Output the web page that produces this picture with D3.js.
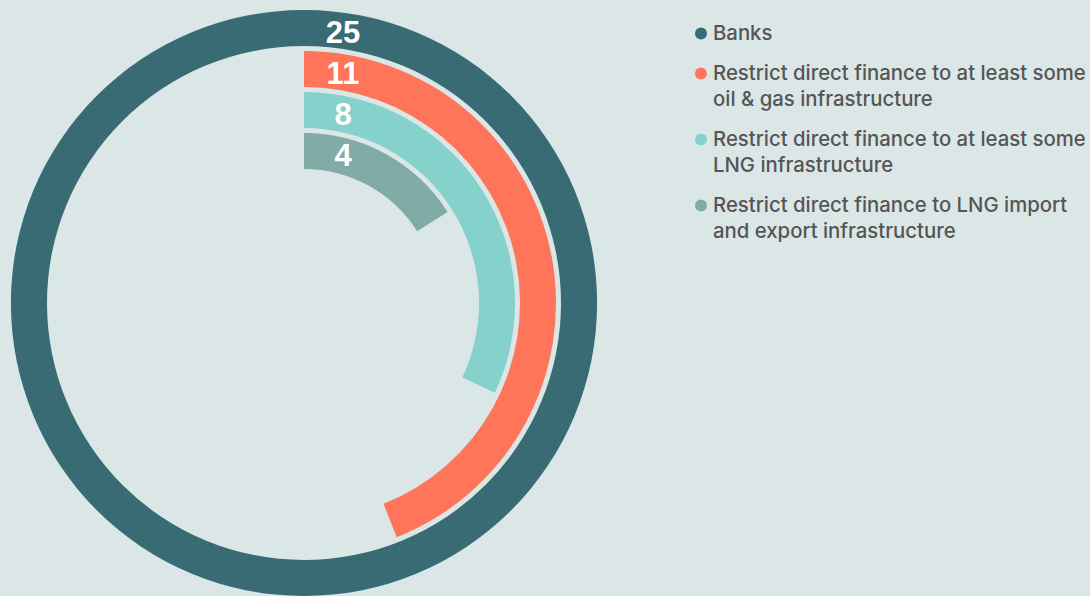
<!DOCTYPE html>
<html>
<head>
<meta charset="utf-8">
<script src="https://cdn.jsdelivr.net/npm/d3@7"></script>
<style>
  body { margin: 0; background: #dbe6e6; }
  svg { display: block; }
  .legend text { font-family: Inter, "Open Sans", sans-serif; font-weight: 500; font-size: 18px; fill: #555; }
  .num { font-family: "Liberation Sans", Arial, sans-serif; font-weight: bold; font-size: 31px; fill: #fff; }
</style>
</head>
<body>
<div id="chart"></div>
<script>
// data
const categories = ["Banks",
  "Restrict direct finance to at least some oil & gas infrastructure",
  "Restrict direct finance to at least some LNG infrastructure",
  "Restrict direct finance to LNG import and export infrastructure"];
const values = [25, 11, 8, 4];
const legendLines = [
  ["Banks"],
  ["Restrict direct finance to at least some", "oil & gas infrastructure"],
  ["Restrict direct finance to at least some", "LNG infrastructure"],
  ["Restrict direct finance to LNG import", "and export infrastructure"]
];
const colors = ["#386b73", "#ff7559", "#84d2cb", "#80aba7"];

let width = 1090, height = 596;
let cx = 304, cy = 303;

let svg = d3.select("#chart").append("svg")
    .attr("width", width)
    .attr("height", height);

svg.append("rect").attr("width", width).attr("height", height).attr("fill", "#dbe6e6");

// radial band per category, outermost = first
let r = d3.scaleBand()
    .domain(categories.slice().reverse())
    .range([134, 293])
    .paddingInner(5 / 41)
    .paddingOuter(0);

let angle = d3.scaleLinear()
    .domain([0, 25])
    .range([0, 2 * Math.PI]);

let arc = d3.arc()
    .innerRadius(d => r(d.cat))
    .outerRadius(d => r(d.cat) + r.bandwidth())
    .startAngle(0)
    .endAngle(d => angle(d.value));

let rows = categories.map((c, i) => ({cat: c, value: values[i], color: colors[i]}));

let g = svg.append("g").attr("transform", "translate(" + cx + "," + cy + ")");

g.selectAll("path.bar")
    .data(rows)
    .enter().append("path")
    .attr("class", "bar")
    .attr("d", arc)
    .attr("fill", d => d.color);

g.selectAll("text.num")
    .data(rows)
    .enter().append("text")
    .attr("class", "num")
    .attr("x", 39)
    .attr("y", d => -(r(d.cat) + r.bandwidth() / 2))
    .attr("dy", "0.48em")
    .attr("text-anchor", "middle")
    .text(d => d.value);

// legend
let legend = svg.append("g").attr("class", "legend");
let ly = 40;
legendLines.forEach((lines, i) => {
  legend.append("circle")
    .attr("cx", 701)
    .attr("cy", ly - 6.5)
    .attr("r", 6)
    .attr("fill", colors[i]);
  let t = legend.append("text").attr("x", 713).attr("y", ly);
  lines.forEach((s, j) => {
    t.append("tspan").attr("x", 713).attr("dy", j == 0 ? 0 : 26).text(s);
  });
  ly += 40 + (lines.length - 1) * 26;
});

// fit legend font so the longest line spans ~373px like the reference
let first = legend.select("text:nth-of-type(2) tspan").node();
let w = first.getComputedTextLength();
let fs = 18 * 373 / w;
legend.selectAll("text").style("font-size", fs + "px");
</script>
</body>
</html>
